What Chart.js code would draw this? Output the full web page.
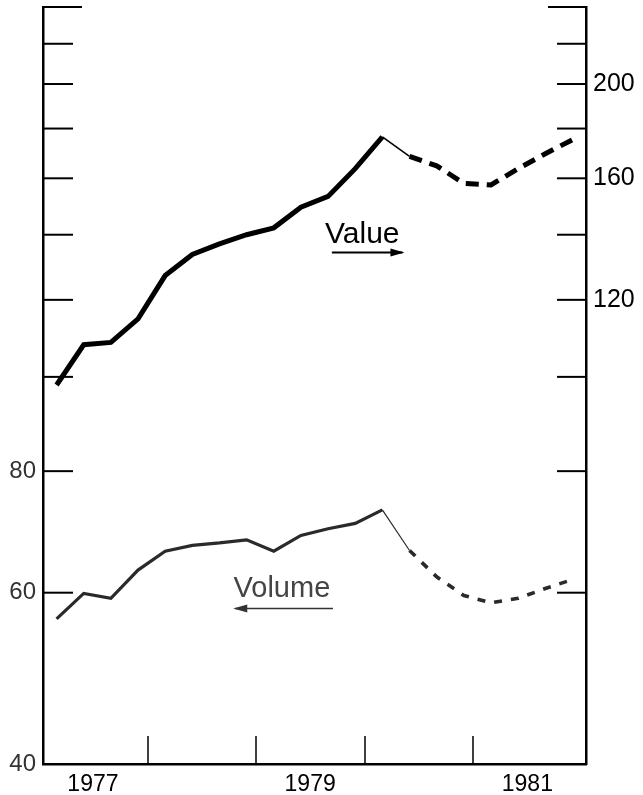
<!DOCTYPE html>
<html>
<head>
<meta charset="utf-8">
<script src="https://cdn.jsdelivr.net/npm/chart.js@4.4.1/dist/chart.umd.min.js"></script>
<style>
  html, body { margin: 0; padding: 0; background: #fff; }
  #wrap { width: 643px; height: 795px; }
</style>
</head>
<body>
<div id="wrap"><canvas id="tradeChart"></canvas></div>
<script>
// quarterly observations, plotted at mid-quarter
const quarters = [
  1977.125, 1977.375, 1977.625, 1977.875,
  1978.125, 1978.375, 1978.625, 1978.875,
  1979.125, 1979.375, 1979.625, 1979.875,
  1980.125, 1980.375, 1980.625, 1980.875,
  1981.125, 1981.375, 1981.625, 1981.875
];
const valueIndex = [
  98.1, 107.9, 108.5, 114.7,
  127.1, 133.6, 137.0, 140.0,
  142.3, 149.4, 153.3, 163.7,
  176.5, 168.5, 164.8, 158.1,
  157.5, 163.7, 169.6, 175.3
];
const volumeIndex = [
  56.4, 59.9, 59.2, 63.3,
  66.2, 67.1, 67.5, 68.0,
  66.2, 68.7, 69.8, 70.7,
  73.0, 66.3, 62.3, 59.6,
  58.6, 59.2, 60.6, 61.9
];
const yearLabels = [1977, 1979, 1981];
const yearTicks = [1978, 1979, 1980, 1981];
const yTicks = [40, 60, 80, 100, 120, 140, 160, 180, 200, 220, 240];
const leftLabels = [40, 60, 80];
const rightLabels = [120, 160, 200];

const lastActual = 12;   // 1980 Q1, after that thin then dashed
const FONT = '"Liberation Sans", Arial, sans-serif';

function seg(solidW, thinW, dashW, dash) {
  return {
    borderWidth: ctx => ctx.p0DataIndex === lastActual ? thinW : (ctx.p0DataIndex > lastActual ? dashW : solidW),
    borderDash: ctx => ctx.p0DataIndex > lastActual ? dash : undefined
  };
}

function line(ctx, x1, y1, x2, y2) {
  ctx.beginPath();
  ctx.moveTo(x1, y1);
  ctx.lineTo(x2, y2);
  ctx.stroke();
}

function arrow(ctx, x1, x2, y, head) {
  line(ctx, x1, y, x2, y);
  const d = x2 > x1 ? 1 : -1;
  ctx.beginPath();
  ctx.moveTo(x2 + d * 2, y);
  ctx.lineTo(x2 - d * head, y - 4);
  ctx.lineTo(x2 - d * head, y + 4);
  ctx.closePath();
  ctx.fill();
}

// inward tick marks and the two line captions
const decorations = {
  id: 'decorations',
  afterDraw(chart) {
    const { ctx, chartArea: a, scales: { x, y } } = chart;
    ctx.save();
    ctx.strokeStyle = '#000';
    ctx.fillStyle = '#000';
    ctx.lineWidth = 2;
    yTicks.forEach(v => {
      if (v === 40) return;
      const py = y.getPixelForValue(v);
      const top = v === 240;
      line(ctx, a.left, py, a.left + (top ? 39 : 30), py);
      line(ctx, a.right - (top ? 38 : 29), py, a.right, py);
    });
    ctx.lineWidth = 1.5;
    yearTicks.forEach(t => {
      const px = Math.round(x.getPixelForValue(t)) - 4;
      line(ctx, px, a.bottom, px, a.bottom - 28);
    });

    ctx.font = '30px ' + FONT;
    ctx.textAlign = 'center';
    ctx.textBaseline = 'alphabetic';
    ctx.fillText('Value', x.getPixelForValue(1979.94), y.getPixelForValue(137.4));
    ctx.lineWidth = 2;
    arrow(ctx, x.getPixelForValue(1979.66), x.getPixelForValue(1980.31), y.getPixelForValue(134.2), 12);

    ctx.font = '29px ' + FONT;
    ctx.fillStyle = '#444';
    ctx.strokeStyle = '#333';
    ctx.fillText('Volume', x.getPixelForValue(1979.2), y.getPixelForValue(59.4));
    ctx.lineWidth = 1.5;
    ctx.fillStyle = '#333';
    arrow(ctx, x.getPixelForValue(1979.67), x.getPixelForValue(1978.77), y.getPixelForValue(57.8), 12);
    ctx.restore();
  }
};

function yAxis(position, shown, width, color, size, pad) {
  return {
    type: 'logarithmic',
    position: position,
    min: 40,
    max: 240,
    afterBuildTicks: s => { s.ticks = yTicks.map(v => ({ value: v })); },
    afterFit: s => { s.width = width; s.paddingTop = 0; s.paddingBottom = 0; },
    grid: { display: false, drawTicks: false },
    border: { display: true, color: '#000', width: 2.5 },
    ticks: {
      padding: pad,
      color: color,
      font: { family: FONT, size: size },
      callback: v => shown.includes(v) ? String(v) : ''
    }
  };
}

new Chart(document.getElementById('tradeChart'), {
  type: 'line',
  data: {
    datasets: [
      {
        label: 'Value',
        data: quarters.map((q, i) => ({ x: q, y: valueIndex[i] })),
        yAxisID: 'y2',
        borderColor: '#000',
        borderWidth: 5,
        pointRadius: 0,
        tension: 0,
        segment: seg(5, 1.6, 5, [13, 8])
      },
      {
        label: 'Volume',
        data: quarters.map((q, i) => ({ x: q, y: volumeIndex[i] })),
        yAxisID: 'y',
        borderColor: '#2a2a2a',
        borderWidth: 3.2,
        pointRadius: 0,
        tension: 0,
        segment: seg(3.2, 1.2, 3.6, [8, 9])
      }
    ]
  },
  options: {
    responsive: true,
    maintainAspectRatio: false,
    animation: false,
    layout: { padding: { top: 7, left: 0, right: 0, bottom: 0 } },
    plugins: { legend: { display: false }, tooltip: { enabled: false } },
    scales: {
      x: {
        type: 'linear',
        min: 1977,
        max: 1982,
        afterBuildTicks: s => { s.ticks = yearLabels.map(v => ({ value: v + 0.46 })); },
        afterFit: s => { s.height = 31; s.paddingLeft = 0; s.paddingRight = 0; },
        grid: { display: false, drawTicks: false },
        border: { display: true, color: '#000', width: 2.5 },
        ticks: {
          padding: 7,
          color: '#000',
          maxRotation: 0,
          font: { family: FONT, size: 23 },
          callback: v => String(Math.floor(v))
        }
      },
      y: yAxis('left', leftLabels, 43, '#333', 24, 7),
      y2: yAxis('right', rightLabels, 57, '#000', 25, 7)
    }
  },
  plugins: [decorations]
});
</script>
</body>
</html>
